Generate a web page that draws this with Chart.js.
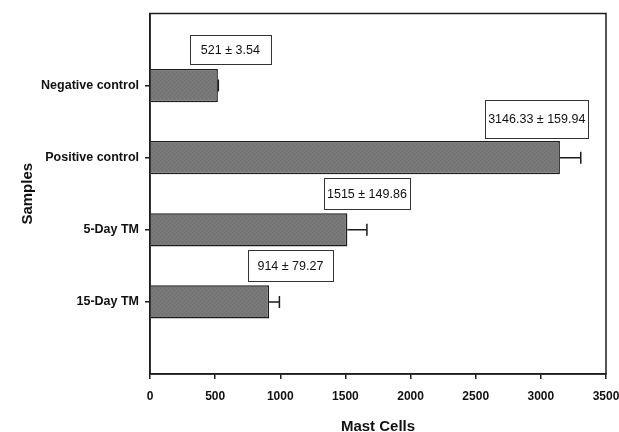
<!DOCTYPE html>
<html>
<head>
<meta charset="utf-8">
<script src="https://cdn.jsdelivr.net/npm/chart.js@4"></script>
<style>
html, body { margin: 0; padding: 0; background: #fff; }
</style>
</head>
<body>
<canvas id="chart" width="619" height="432"></canvas>
<script>
// data
const categories = ['Negative control', 'Positive control', '5-Day TM', '15-Day TM'];
const means = [521, 3146.33, 1515, 914];
const errors = [3.54, 159.94, 149.86, 79.27];
const xMin = 0;
const xMax = 3500;
const xStep = 500;

// label box look (pixel nudges relative to the error bar end)
const boxStyle = [
    { dx: 12, dy: 0, w: 81, h: 29 },
    { dx: -44, dy: -3, w: 103, h: 38 },
    { dx: 0, dy: 0, w: 86, h: 31 },
    { dx: 11, dy: 0, w: 85, h: 31 }
];

const ink = '#1c1c1c';

function makePattern() {
    const c = document.createElement('canvas');
    c.width = 4;
    c.height = 4;
    const g = c.getContext('2d');
    g.fillStyle = '#777777';
    g.fillRect(0, 0, 4, 4);
    g.fillStyle = '#707070';
    g.fillRect(0, 0, 1, 1);
    g.fillRect(2, 2, 1, 1);
    g.fillStyle = '#7e7e7e';
    g.fillRect(2, 0, 1, 1);
    g.fillRect(0, 2, 1, 1);
    return g.createPattern(c, 'repeat');
}

const extrasPlugin = {
    id: 'extras',
    afterDatasetsDraw(chart) {
        const ctx = chart.ctx;
        const xs = chart.scales.x;
        const ys = chart.scales.y;
        ctx.save();

        // one-sided error bars
        ctx.strokeStyle = ink;
        ctx.lineWidth = 1.5;
        means.forEach((m, i) => {
            const y = ys.getPixelForValue(i + 1);
            const x0 = xs.getPixelForValue(m);
            const x1 = xs.getPixelForValue(m + errors[i]);
            ctx.beginPath();
            ctx.moveTo(x0, y);
            ctx.lineTo(x1, y);
            ctx.moveTo(x1, y - 6);
            ctx.lineTo(x1, y + 6);
            ctx.stroke();
        });

        // value boxes
        ctx.font = '12.5px "Liberation Sans", Arial, sans-serif';
        ctx.textAlign = 'center';
        ctx.textBaseline = 'middle';
        means.forEach((m, i) => {
            const s = boxStyle[i];
            const cx = xs.getPixelForValue(m + errors[i]) + s.dx;
            const cy = ys.getPixelForValue(i + 0.5) + s.dy;
            ctx.fillStyle = '#fff';
            ctx.fillRect(cx - s.w / 2, cy - s.h / 2, s.w, s.h);
            ctx.strokeStyle = '#333';
            ctx.lineWidth = 1;
            ctx.strokeRect(Math.round(cx - s.w / 2) + 0.5, Math.round(cy - s.h / 2) + 0.5, s.w, s.h);
            ctx.fillStyle = '#111';
            ctx.fillText(m + ' \u00b1 ' + errors[i], cx, cy + 1);
        });

        // frame round the plot area
        const a = chart.chartArea;
        ctx.strokeStyle = ink;
        ctx.lineWidth = 1.5;
        ctx.strokeRect(a.left, a.top, a.right - a.left, a.bottom - a.top);
        ctx.restore();
    }
};

const ctx = document.getElementById('chart').getContext('2d');
new Chart(ctx, {
    type: 'bar',
    data: {
        labels: ['', ...categories, ''],
        datasets: [{
            data: [null, ...means, null],
            backgroundColor: makePattern(),
            borderColor: ink,
            borderWidth: 1.5,
            categoryPercentage: 1,
            barPercentage: 0.46
        }]
    },
    options: {
        indexAxis: 'y',
        responsive: false,
        animation: false,
        devicePixelRatio: 1,
        layout: { padding: { top: 13, right: 13, left: 0, bottom: 0 } },
        plugins: {
            legend: { display: false },
            tooltip: { enabled: false }
        },
        scales: {
            x: {
                type: 'linear',
                min: xMin,
                max: xMax,
                ticks: {
                    stepSize: xStep,
                    color: '#111',
                    padding: 10,
                    callback: v => String(v),
                    font: { family: '"Liberation Sans", Arial, sans-serif', size: 12, weight: 'bold' }
                },
                grid: { drawOnChartArea: false, tickLength: 5, color: ink, lineWidth: 1.5 },
                border: { color: ink, width: 1.5 },
                title: {
                    display: true,
                    text: 'Mast Cells',
                    color: '#111',
                    padding: { top: 0, bottom: -4 },
                    font: { family: '"Liberation Sans", Arial, sans-serif', size: 15, weight: 'bold' }
                },
                afterFit(scale) {
                    scale.height = 58;
                    scale.paddingRight = 0;
                }
            },
            y: {
                type: 'category',
                offset: false,
                ticks: {
                    color: '#111',
                    padding: 6,
                    font: { family: '"Liberation Sans", Arial, sans-serif', size: 12.5, weight: 'bold' }
                },
                grid: { offset: false, drawOnChartArea: false, tickLength: 5, color: ink, lineWidth: 1.5 },
                border: { color: ink, width: 1.5 },
                title: {
                    display: true,
                    text: 'Samples',
                    color: '#111',
                    padding: { top: 19, bottom: 0 },
                    font: { family: '"Liberation Sans", Arial, sans-serif', size: 15, weight: 'bold' }
                },
                afterBuildTicks(scale) {
                    scale.ticks = scale.ticks.filter(t => t.value > 0 && t.value <= categories.length);
                },
                afterFit(scale) { scale.width = 150; }
            }
        }
    },
    plugins: [extrasPlugin]
});
</script>
</body>
</html>
